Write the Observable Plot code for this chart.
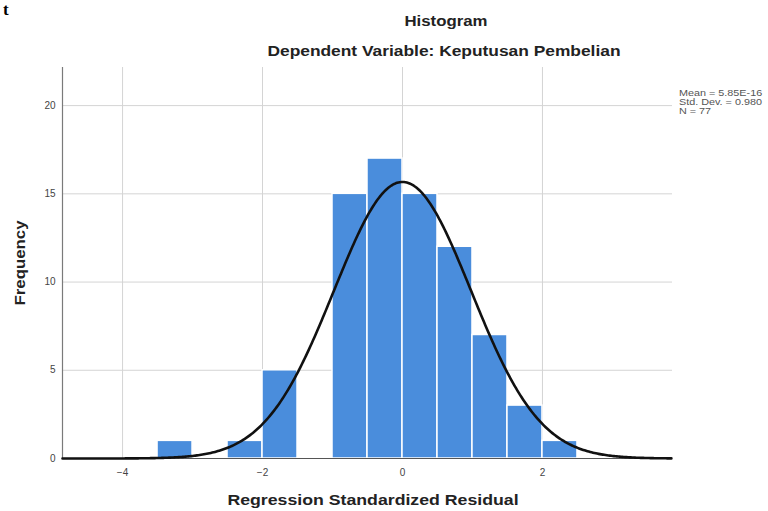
<!DOCTYPE html>
<html>
<head>
<meta charset="utf-8">
<script src="https://cdn.jsdelivr.net/npm/d3@7"></script>
<script src="https://cdn.jsdelivr.net/npm/@observablehq/plot@0.6"></script>
<style>
  html, body { margin: 0; padding: 0; background: #fff; }
  #wrap { position: relative; width: 768px; height: 511px; overflow: hidden; font-family: "Liberation Sans", Arial, sans-serif; }
  #chart { position: absolute; left: 0; top: 0; }
  .ov { position: absolute; white-space: nowrap; color: #222; }
  .title { font-weight: bold; font-size: 14px; }
  .legend { font-size: 9px; color: #555; line-height: 9px; transform: scaleX(1.2); transform-origin: left center; }
</style>
</head>
<body>
<div id="wrap">
  <div id="chart"></div>
  <div class="ov" style="left:3px; top:1px; line-height:17px; font-family:'Liberation Serif','DejaVu Serif',serif; font-weight:bold; font-size:17px; color:#000;">t</div>
  <div class="ov title" style="left:446px; top:13px; transform: translateX(-50%) scaleX(1.2);">Histogram</div>
  <div class="ov title" style="left:444px; top:43px; transform: translateX(-50%) scaleX(1.24);">Dependent Variable: Keputusan Pembelian</div>
  <div class="ov legend" style="left:679px; top:89px;">Mean = 5.85E-16<br>Std. Dev. = 0.980<br>N = 77</div>
  <div class="ov title" style="left:373px; top:491px; font-size:15px; transform: translateX(-50%) scaleX(1.18);">Regression Standardized Residual</div>
  <div class="ov title" style="left:20px; top:263px; transform: translate(-50%,-50%) rotate(-90deg) scaleX(1.2);">Frequency</div>
</div>
<script>
// Histogram bins (lower edge) and counts
const binStart = [-3.5, -3.0, -2.5, -2.0, -1.5, -1.0, -0.5, 0.0, 0.5, 1.0, 1.5, 2.0];
const counts   = [1, 0, 1, 5, 0, 15, 17, 15, 12, 7, 3, 1];
const binWidth = 0.5;
// Normal-curve parameters shown in the legend
const mean = 5.85e-16;
const stdDev = 0.980;
const n = 77;
const xTicks = [-4, -2, 0, 2];
const yTicks = [0, 5, 10, 15, 20];

const xDomain = [-4.858, 3.858];
const yDomain = [0, 22.16];

const bars = binStart.map((b, i) => ({x1: b, x2: b + binWidth, y: counts[i]})).filter(d => d.y > 0);
const curve = d3.range(xDomain[0], xDomain[1] + 0.001, 0.02).map(x => ({
  x,
  y: n * binWidth * Math.exp(-0.5 * ((x - mean) / stdDev) ** 2) / (stdDev * Math.sqrt(2 * Math.PI))
}));

const chart = Plot.plot({
  width: 768,
  height: 511,
  marginLeft: 62,
  marginRight: 96,
  marginTop: 67,
  marginBottom: 53,
  style: {fontFamily: "'Liberation Sans', Arial, sans-serif", fontSize: "10px", background: "#fff", color: "#444"},
  x: {domain: xDomain, ticks: xTicks, label: null, tickSize: 0, tickPadding: 10},
  y: {domain: yDomain, ticks: yTicks, label: null, tickSize: 0, tickPadding: 7},
  marks: [
    Plot.gridX(xTicks, {stroke: "#d4d4d4", strokeOpacity: 1, strokeWidth: 1}),
    Plot.gridY(yTicks.filter(d => d > 0), {stroke: "#d4d4d4", strokeOpacity: 1, strokeWidth: 1}),
    Plot.ruleX([xDomain[0]], {stroke: "#7a7a7a", strokeWidth: 1.2}),
    Plot.rectY(bars, {x1: "x1", x2: "x2", y: "y", fill: "#4a8ddc", stroke: "#fff", strokeWidth: 1.5}),
    Plot.ruleY([0], {stroke: "#555", strokeWidth: 1}),
    Plot.line(curve, {x: "x", y: "y", stroke: "#111", strokeWidth: 2.6}),
    Plot.axisX({ticks: xTicks, tickSize: 0, tickPadding: 10, label: null}),
    Plot.axisY({ticks: yTicks, tickSize: 0, tickPadding: 7, label: null})
  ]
});
document.getElementById("chart").appendChild(chart);
</script>
</body>
</html>
